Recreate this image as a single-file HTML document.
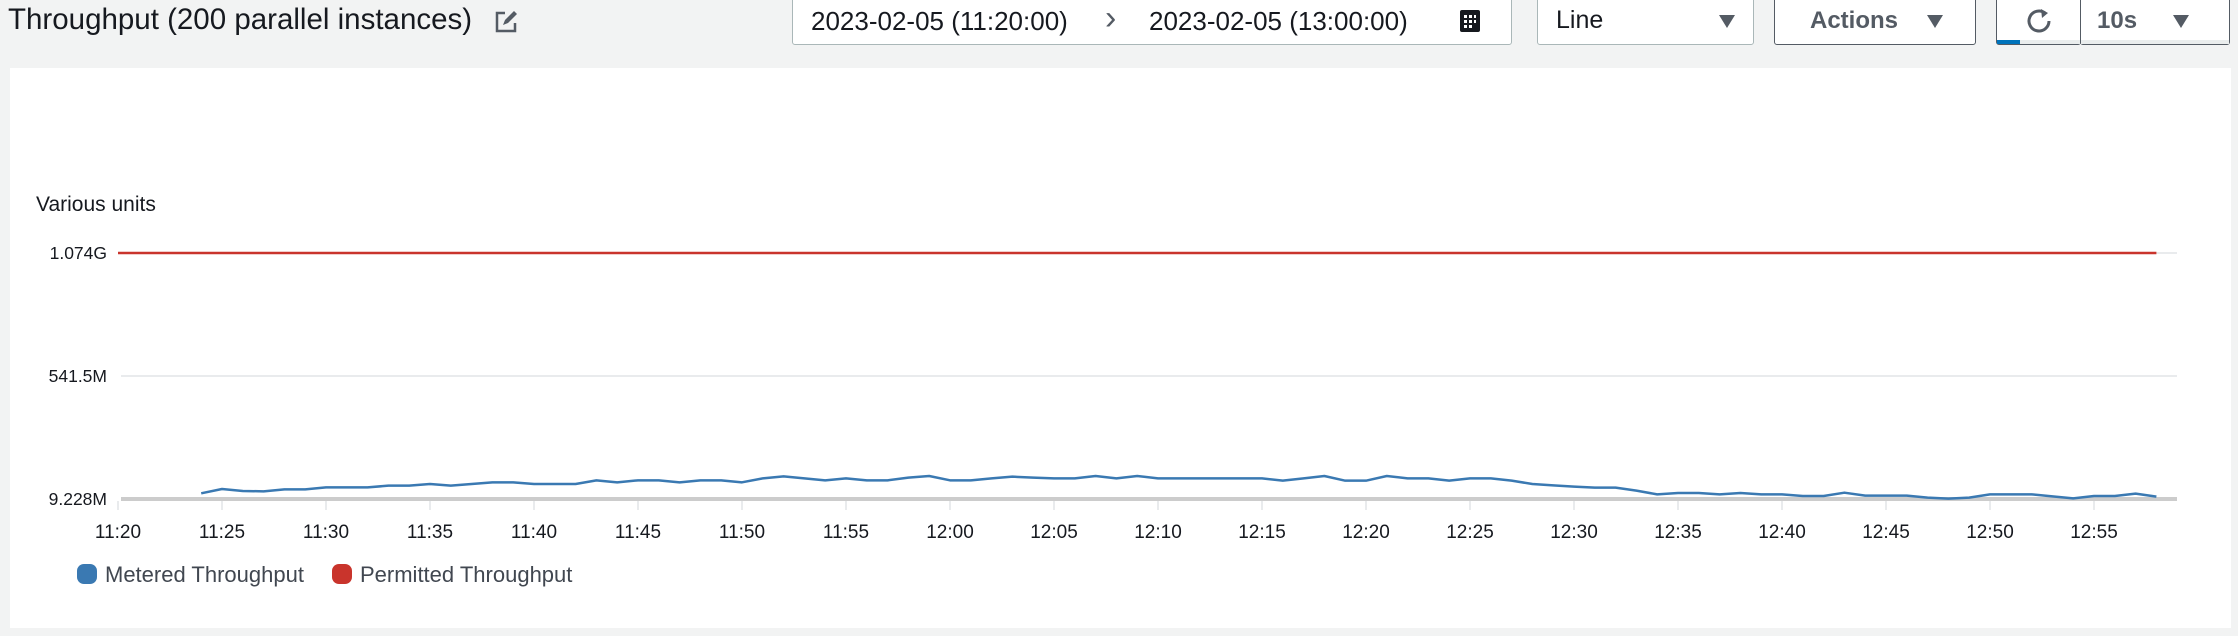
<!DOCTYPE html>
<html><head><meta charset="utf-8"><style>
body{margin:0;width:2238px;height:636px;background:#f2f3f3;font-family:"Liberation Sans",sans-serif;position:relative;overflow:hidden;color:#16191f}
.abs{position:absolute}
.box{position:absolute;top:-2px;height:47px;background:#fff;border:1px solid #aab7b8;border-radius:0 0 3px 3px;box-sizing:border-box}
.tri{position:absolute;width:0;height:0;border-left:8px solid transparent;border-right:8px solid transparent;border-top:13px solid #545b64}
</style></head><body>
<div class="abs" style="left:8px;top:3px;font-size:29.5px;">Throughput (200 parallel instances)</div>
<svg class="abs" style="left:494px;top:10px" width="24" height="24" viewBox="0 0 24 24"><path d="M11 3H3v18h18v-8" fill="none" stroke="#545b64" stroke-width="2.5"/><path d="M9 15l2-5 9-9 3 3-9 9z" fill="#545b64"/></svg>
<div class="box" style="left:792px;width:720px">
  <span class="abs" style="left:18px;top:7px;font-size:26px">2023-02-05 (11:20:00)</span>
  <span class="abs" style="left:312px;top:0px;font-size:34px;color:#545b64">&#x203A;</span>
  <span class="abs" style="left:356px;top:7px;font-size:26px">2023-02-05 (13:00:00)</span>
  <svg class="abs" style="left:666px;top:10px" width="22" height="24"><rect x="1" y="1" width="20" height="22" rx="2" fill="#16191f"/><g fill="#fff"><rect x="5" y="6" width="3" height="3"/><rect x="10" y="6" width="3" height="3"/><rect x="15" y="6" width="2" height="3"/><rect x="5" y="11" width="3" height="3"/><rect x="10" y="11" width="3" height="3"/><rect x="15" y="11" width="2" height="3"/><rect x="5" y="16" width="3" height="3"/><rect x="10" y="16" width="3" height="3"/></g></svg>
</div>
<div class="box" style="left:1537px;width:217px">
  <span class="abs" style="left:18px;top:7px;font-size:25px">Line</span>
  <div class="tri" style="left:181px;top:16px"></div>
</div>
<div class="box" style="left:1774px;width:202px;border-color:#545b64">
  <span class="abs" style="left:35px;top:8px;font-size:24px;font-weight:bold;color:#545b64">Actions</span>
  <div class="tri" style="left:152px;top:16px"></div>
</div>
<div class="box" style="left:1996px;width:85px;border-color:#545b64">
  <svg class="abs" style="left:28px;top:8px" width="28" height="28" viewBox="0 0 28 28"><path d="M20 6A10 10 0 1 0 24 14" fill="none" stroke="#545b64" stroke-width="3"/><path d="M16 2l7 4-6 5z" fill="#545b64"/></svg>
  <div class="abs" style="left:0;top:41px;width:83px;height:4px;background:#eaeded"><div style="width:23px;height:4px;background:#0073bb"></div></div>
</div>
<div class="box" style="left:2080px;width:150px;border-color:#545b64">
  <span class="abs" style="left:16px;top:8px;font-size:24px;font-weight:bold;color:#545b64">10s</span>
  <div class="tri" style="left:92px;top:16px"></div>
  <div class="abs" style="left:0;top:41px;width:148px;height:4px;background:#eaeded"></div>
</div>
<div class="abs" style="left:10px;top:68px;width:2221px;height:560px;background:#fff"></div>
<svg class="abs" style="left:0;top:0" width="2238" height="636" id="chart"></svg>
<script>
const xLabels=["11:20","11:25","11:30","11:35","11:40","11:45","11:50","11:55","12:00","12:05","12:10","12:15","12:20","12:25","12:30","12:35","12:40","12:45","12:50","12:55"];
const yTicks=[9.228,541.5,1074];
const yTickLabels=["9.228M","541.5M","1.074G"];
const meteredStart=4;
const metered=[33.8,52.5,43.9,42.4,51.1,51.1,59.7,59.7,59.7,66.9,66.9,74.2,66.9,74.2,81.4,81.4,74.2,74.2,74.2,90.0,81.4,90.0,90.0,81.4,90.0,90.0,81.4,98.7,107.4,98.7,90.0,98.7,
90,90,101.6,108.8,90,90,98.7,105.9,101.6,98.7,98.7,108.8,98.7,108.8,98.7,98.7,98.7,98.7,98.7,98.7,88.6,98.7,108.8,88.6,88.6,108.8,98.7,98.7,88.6,98.7,98.7,88.6,74.2,68.4,62.6,58.3,58.3,45.3,29.4,35.2,35.2,29.4,35.2,29.4,29.4,22.2,22.2,36.6,23.7,23.7,23.7,15,10.7,15,29.4,29.4,29.4,20.8,12.1,22.2,22.2,32.3,19.3];
const permittedStart=0;
const permitted=Array(99).fill(1074);
const X0=118,PXMIN=104/5,Y0=499,YTOP=253,VMIN=9.228,VMAX=1074,GRID_END=2177;
const xs=m=>X0+m*PXMIN;
const ys=v=>Y0-(v-VMIN)*(Y0-YTOP)/(VMAX-VMIN);
const svg=document.getElementById('chart');const NS='http://www.w3.org/2000/svg';
function mk(t,a){const e=document.createElementNS(NS,t);for(const k in a)e.setAttribute(k,a[k]);svg.appendChild(e);return e;}
let t=mk('text',{x:36,y:211,'font-size':21,fill:'#16191f'});t.textContent='Various units';


yTicks.forEach((v,i)=>{
  const y=ys(v);
  const g=mk('line',{x1:121,x2:GRID_END,y1:y,y2:y,stroke:i==0?'#cccccc':'#e9ebed','stroke-width':i==0?4:2});
  
  
  const l=mk('text',{x:107,y:y+6,'text-anchor':'end','font-size':17.5,fill:'#16191f'});l.textContent=yTickLabels[i];
  
  
});
xLabels.forEach((s,i)=>{
  const x=xs(i*5);
  const tk=mk('line',{x1:x,x2:x,y1:501,y2:510,stroke:'#e9ebed','stroke-width':2});
  
  
  const l=mk('text',{x:x,y:538,'text-anchor':'middle','font-size':19,fill:'#16191f'});l.textContent=s;
  
  
});
const p1=mk('polyline',{points:permitted.map((v,i)=>xs(permittedStart+i)+','+ys(v)).join(' '),fill:'none',stroke:'#c9342c','stroke-width':2.5});


const p2=mk('polyline',{points:metered.map((v,i)=>xs(meteredStart+i)+','+ys(v)).join(' '),fill:'none',stroke:'#3a79b2','stroke-width':2.5,'stroke-linejoin':'round'});


[[77,'#3a79b2','Metered Throughput'],[332,'#c9342c','Permitted Throughput']].forEach(([x,c,s],i)=>{
  const r=mk('rect',{x:x,y:564,width:20,height:20,rx:7,fill:c});
  
  
  const l=mk('text',{x:x+28,y:582,'font-size':22,fill:'#414750'});l.textContent=s;
  
  
});
</script>
</body></html>
